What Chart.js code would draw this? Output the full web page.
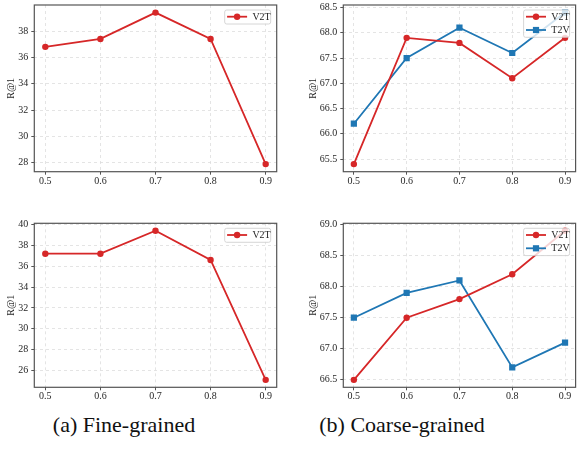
<!DOCTYPE html>
<html>
<head>
<meta charset="utf-8">
<script src="https://cdn.jsdelivr.net/npm/chart.js@4.4.0/dist/chart.umd.min.js"></script>
<style>
  html, body { margin: 0; padding: 0; background: #fff; overflow: hidden; }
  #wrap { position: relative; width: 577px; height: 450px; overflow: hidden; }
  canvas { position: absolute; }
  .legenda { position: absolute; font-family: "Liberation Serif", "DejaVu Serif", serif; font-size: 22px; line-height: 1; color: #111; white-space: nowrap; transform: translateX(-50%); }
</style>
</head>
<body>
<div id="wrap">
  <canvas id="fineTop" width="290" height="200" style="left:0;top:0"></canvas>
  <canvas id="coarseTop" width="290" height="200" style="left:290px;top:0"></canvas>
  <canvas id="fineBot" width="290" height="200" style="left:0;top:210px"></canvas>
  <canvas id="coarseBot" width="290" height="200" style="left:290px;top:210px"></canvas>
  <div class="legenda" style="left:124px;top:414px">(a) Fine-grained</div>
  <div class="legenda" style="left:402px;top:414px">(b) Coarse-grained</div>
</div>
<script>
// eixo x (limiar)
let limiares = [0.5, 0.6, 0.7, 0.8, 0.9];
let ticksX = [0.5, 0.6, 0.7, 0.8, 0.9];

// (a) Fine-grained
let fineTopV2T = [36.8, 37.4, 39.4, 37.4, 27.9];
let fineBotV2T = [37.2, 37.2, 39.4, 36.6, 25.1];

// (b) Coarse-grained
let coarseTopV2T = [65.4, 67.9, 67.8, 67.1, 67.9];
let coarseTopT2V = [66.2, 67.5, 68.1, 67.6, 68.4];
let coarseBotV2T = [66.5, 67.5, 67.8, 68.2, 68.9];
let coarseBotT2V = [67.5, 67.9, 68.1, 66.7, 67.1];

// ticks do eixo y
let ticksFineTop = [28, 30, 32, 34, 36, 38];
let ticksFineBot = [26, 28, 30, 32, 34, 36, 38, 40];
let ticksCoarseTop = [65.5, 66.0, 66.5, 67.0, 67.5, 68.0, 68.5];
let ticksCoarseBot = [66.5, 67.0, 67.5, 68.0, 68.5, 69.0];

let vermelho = '#d62728';
let azul = '#1f77b4';
let corTexto = '#262626';
let fonte = { family: '"Liberation Serif", "DejaVu Serif", serif', size: 10 };

function pontos(valores) {
  return limiares.map((t, i) => ({ x: t, y: valores[i] }));
}

function serie(label, valores, cor, estilo) {
  return {
    label: label,
    data: pontos(valores),
    borderColor: cor,
    backgroundColor: cor,
    borderWidth: 1.8,
    pointStyle: estilo,
    pointRadius: estilo === 'rect' ? 4.4 : 3.2,
    pointBorderWidth: 0,
    pointBackgroundColor: cor,
    tension: 0
  };
}

// moldura em volta da area + legenda no canto superior direito
const molduraLegenda = {
  id: 'molduraLegenda',
  afterDraw(chart) {
    let ctx = chart.ctx;
    let a = chart.chartArea;
    ctx.save();
    ctx.strokeStyle = '#555555';
    ctx.lineWidth = 1.2;
    ctx.strokeRect(a.left, a.top, a.right - a.left, a.bottom - a.top);

    let ds = chart.data.datasets;
    let w = 46, linhaH = 13.3, h = ds.length * linhaH + 0.7;
    let x0 = a.right - 6 - w, y0 = a.top + 5;
    ctx.fillStyle = 'rgba(255,255,255,0.8)';
    ctx.strokeStyle = '#cccccc';
    ctx.lineWidth = 0.8;
    ctx.beginPath();
    ctx.roundRect(x0, y0, w, h, 2);
    ctx.fill();
    ctx.stroke();

    ctx.font = '10px "Liberation Serif", "DejaVu Serif", serif';
    ctx.textBaseline = 'middle';
    ds.forEach((d, i) => {
      let y = y0 + 6.7 + i * linhaH;
      ctx.strokeStyle = d.borderColor;
      ctx.lineWidth = 1.8;
      ctx.beginPath();
      ctx.moveTo(x0 + 2.4, y);
      ctx.lineTo(x0 + 22.4, y);
      ctx.stroke();
      ctx.fillStyle = d.borderColor;
      if (d.pointStyle === 'rect') {
        ctx.fillRect(x0 + 12.4 - 3.1, y - 3.1, 6.2, 6.2);
      } else {
        ctx.beginPath();
        ctx.arc(x0 + 12.4, y, 3.2, 0, Math.PI * 2);
        ctx.fill();
      }
      ctx.fillStyle = corTexto;
      ctx.fillText(d.label, x0 + 27.7, y + 0.5);
    });
    ctx.restore();
  }
};

function criarGrafico(canvasId, datasets, ticksY, casas, area, tituloPad) {
  let ctx = document.getElementById(canvasId).getContext('2d');
  let todos = datasets.flatMap(d => d.data.map(p => p.y));
  let yMin = Math.min(...todos), yMax = Math.max(...todos);
  let yMargem = (yMax - yMin) * 0.05;
  let xMargem = (limiares[limiares.length - 1] - limiares[0]) * 0.05;
  let grade = { color: '#dedede', lineWidth: 0.8, tickColor: '#555555', tickLength: 3, tickWidth: 1 };

  new Chart(ctx, {
    type: 'line',
    data: { datasets: datasets },
    options: {
      responsive: false,
      animation: false,
      layout: { padding: { left: 0, top: area.top, right: 290 - area.right, bottom: 0 } },
      plugins: { legend: { display: false }, tooltip: { enabled: false } },
      scales: {
        x: {
          type: 'linear',
          min: limiares[0] - xMargem,
          max: limiares[limiares.length - 1] + xMargem,
          afterBuildTicks: s => { s.ticks = ticksX.map(v => ({ value: v })); },
          afterFit: s => { s.height = 200 - area.bottom; s.paddingLeft = 0; s.paddingRight = 0; },
          ticks: { font: fonte, color: corTexto, padding: 0.5, maxRotation: 0, autoSkip: false, callback: v => v.toFixed(1) },
          grid: grade,
          border: { display: false, dash: [3, 3] }
        },
        y: {
          min: yMin - yMargem,
          max: yMax + yMargem,
          afterBuildTicks: s => { s.ticks = ticksY.map(v => ({ value: v })); },
          afterFit: s => { s.width = area.left; s.paddingTop = 0; s.paddingBottom = 0; },
          ticks: { font: fonte, color: corTexto, padding: 3, autoSkip: false, callback: v => v.toFixed(casas) },
          grid: grade,
          border: { display: false, dash: [3, 3] },
          title: { display: true, text: 'R@1', font: fonte, color: corTexto, padding: { top: tituloPad, bottom: 0 } }
        }
      }
    },
    plugins: [molduraLegenda]
  });
}

criarGrafico('fineTop', [serie('V2T', fineTopV2T, vermelho, 'circle')], ticksFineTop, 0,
  { left: 34.3, top: 5, right: 276.7, bottom: 171.7 }, 5.7);
criarGrafico('coarseTop', [serie('V2T', coarseTopV2T, vermelho, 'circle'), serie('T2V', coarseTopT2V, azul, 'rect')], ticksCoarseTop, 1,
  { left: 53.3, top: 5, right: 288.7, bottom: 171.7 }, 17.3);
criarGrafico('fineBot', [serie('V2T', fineBotV2T, vermelho, 'circle')], ticksFineBot, 0,
  { left: 34.3, top: 13.3, right: 276.7, bottom: 177.3 }, 5.7);
criarGrafico('coarseBot', [serie('V2T', coarseBotV2T, vermelho, 'circle'), serie('T2V', coarseBotT2V, azul, 'rect')], ticksCoarseBot, 1,
  { left: 53.3, top: 13.3, right: 288.7, bottom: 177.3 }, 17.3);
</script>
</body>
</html>
